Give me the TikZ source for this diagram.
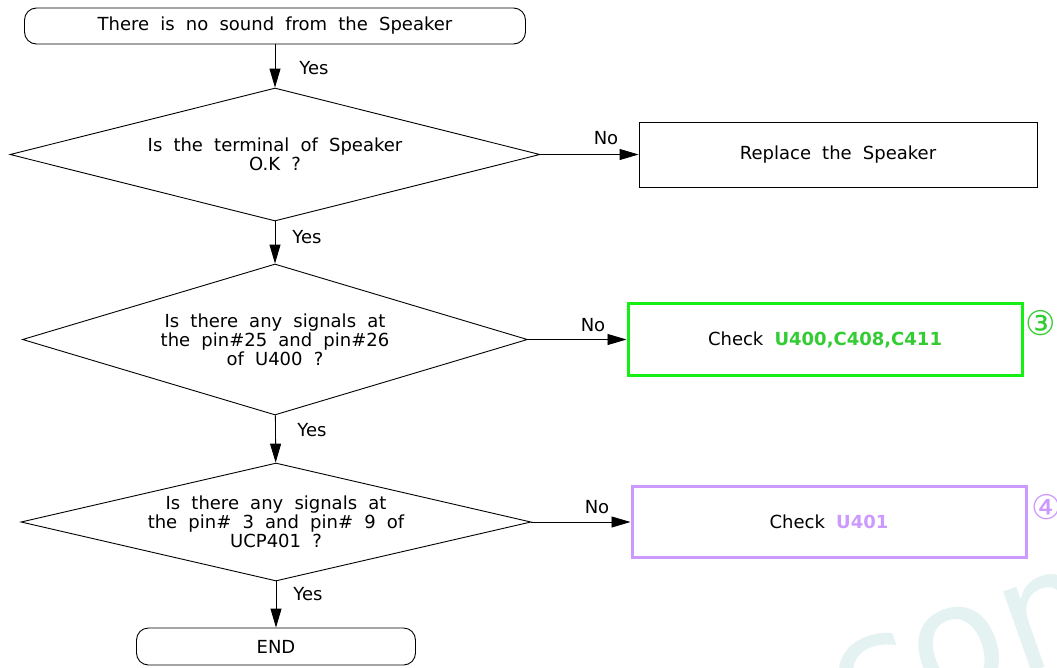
\documentclass[tikz,border=0pt]{standalone}
\usepackage{fontspec}
\setmainfont{DejaVu Sans}
\usetikzlibrary{shapes.geometric,arrows.meta}

% flowchart colours
\definecolor{boxgreen}{RGB}{20,240,20}
\definecolor{txtgreen}{RGB}{51,204,51}
\definecolor{boxviolet}{RGB}{204,153,255}
\definecolor{wmark}{RGB}{229,242,242}

% body text: Verdana-like face with wide word spaces
\newcommand\flowfont{\fontsize{18}{19}\selectfont\spaceskip=0.62em\relax}

\begin{document}
\begin{tikzpicture}[x=1pt,y=-1pt,
  every node/.style={font=\flowfont, inner sep=0pt},
  terminal/.style={draw, line width=0.9pt, rounded corners=12pt, minimum height=36pt},
  decision/.style={draw, line width=0.9pt, diamond, align=center},
  action/.style={draw, line width=0.9pt, rectangle, minimum width=394pt},
  arr/.style={line width=0.9pt, -{Triangle[length=19pt,width=11pt]}},
  lbl/.style={anchor=center},
  stepmark/.style={font=\fontsize{34}{34}\selectfont}
]
\useasboundingbox (0,0) rectangle (1057,667);

% faint watermark in the lower right corner
\begin{scope}
  \clip (0,0) rectangle (1057,667);
  \node[anchor=base west, rotate=19.4, text=wmark,
        font=\fontsize{155}{155}\selectfont] (wm) at (848,736) {com};
\end{scope}

% main column
\node[terminal, minimum width=501pt] (start) at (275,26) {There is no sound from the Speaker};
\node[decision, shape aspect=4, minimum width=530pt, minimum height=133pt] (d1) at (275,154.5)
  {Is the terminal of Speaker\\O.K ?};
\node[decision, shape aspect=3.34, minimum width=505pt, minimum height=151pt] (d2) at (275,339.5)
  {Is there any signals at\\the pin\#25 and pin\#26\\of U400 ?};
\node[decision, shape aspect=4.3, minimum width=510pt, minimum height=118pt] (d3) at (276,522)
  {Is there any signals at\\the pin\# 3 and pin\# 9 of\\UCP401 ?};
\node[terminal, minimum width=279pt, minimum height=37pt] (end) at (276,646.5) {END};

% actions on the right
\node[action, minimum width=398pt, minimum height=65pt] (rep) at (838,154.5) {Replace the Speaker};
\node[action, draw=boxgreen, line width=3pt, minimum height=72pt] (chk1) at (825,339.5)
  {Check \textcolor{txtgreen}{\bfseries U400,C408,C411}};
\node[action, draw=boxviolet, line width=3pt, minimum height=71pt] (chk2) at (829,522)
  {Check \textcolor{boxviolet}{\bfseries U401}};

% step markers
\node[stepmark, text=txtgreen] (m3) at (1041,323) {③};
\node[stepmark, text=boxviolet] (m4) at (1047,507) {④};

% connectors
\draw[arr] (start) -- (d1);
\draw[arr] (d1) -- (d2);
\draw[arr] (d2) -- (d3);
\draw[arr] (d3) -- (end);
\draw[arr] (d1) -- (rep);
\draw[arr] (d2) -- (chk1);
\draw[arr] (d3) -- (chk2);

% branch labels
\node[lbl] (y1) at (314,68) {Yes};
\node[lbl] (y2) at (307,237) {Yes};
\node[lbl] (y3) at (312,430) {Yes};
\node[lbl] (y4) at (308,594) {Yes};
\node[lbl] (n1) at (606,138) {No};
\node[lbl] (n2) at (593,325) {No};
\node[lbl] (n3) at (597,507) {No};
\end{tikzpicture}
\end{document}
